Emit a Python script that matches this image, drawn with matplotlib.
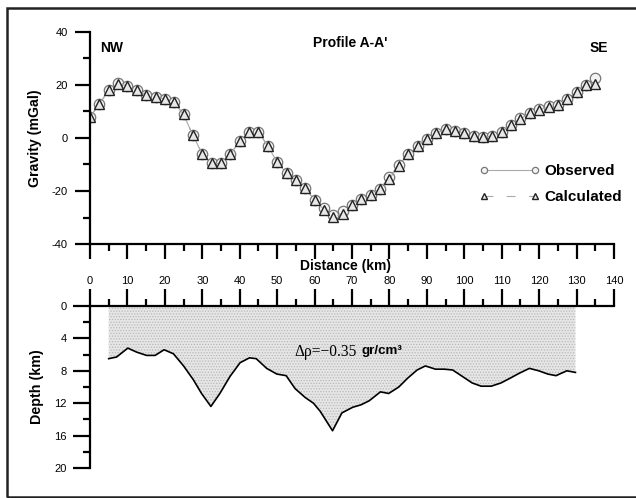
import numpy as np
import matplotlib
matplotlib.use("Agg")
import matplotlib.pyplot as plt
from matplotlib.patches import Rectangle

plt.rcParams["font.family"] = ["Liberation Sans", "DejaVu Sans"]
plt.rcParams["hatch.linewidth"] = 0.6

# gravity profile, one station every 2.5 km
distance = np.arange(0, 137.5, 2.5)
calculated = [8, 12.7, 18.2, 20.5, 19.7, 18, 16.2, 15.4, 14.7, 13.4,
              8.9, 1, -6, -9.6, -9.6, -6, -1.3, 2.3, 2.3, -3,
              -9.1, -13.2, -16, -19, -23.5, -27, -29.8, -28.5, -25.4, -23.1,
              -21.4, -19.1, -15.3, -10.7, -6.2, -3.1, -0.2, 1.9, 3.3, 2.8,
              1.8, 0.8, 0.3, 0.8, 2.4, 4.8, 7.3, 9.3, 10.7, 11.6,
              12.6, 14.7, 17.5, 19.9, 20.4]
observed = [8, 12.7, 18.2, 20.6, 19.8, 18, 16.2, 15.4, 14.7, 13.4,
            8.9, 1, -6, -9.6, -9.6, -6, -1.3, 2.3, 2.3, -3,
            -9.1, -13.2, -16, -19, -23.3, -26.5, -29.2, -27.6, -25.4, -23.1,
            -21.4, -19.1, -14.6, -10.2, -6.2, -3.1, -0.2, 2.0, 3.4, 2.8,
            1.8, 0.8, 0.3, 0.8, 2.4, 4.8, 7.6, 9.5, 10.8, 11.9,
            12.6, 14.7, 17.5, 19.9, 22.5]

# basement depth of the model
depth_x = [5, 7.1, 10.1, 12.5, 15.1, 17.4, 19.8, 22.3, 25, 27.6,
           29.8, 32.3, 34.7, 37.4, 40.1, 42.6, 44.4, 47.2, 49.9, 52.4,
           54.8, 57.5, 59.7, 61.5, 64.8, 67.3, 70.2, 72.4, 74.6, 77.6,
           79.8, 82.5, 84.9, 87.4, 89.6, 92.3, 94.7, 96.9, 99.5, 102.1,
           104.5, 107.2, 109.8, 112.3, 114.7, 117.4, 119.9, 122.3, 124.5, 127.4,
           129.7]
depth_z = [6.5, 6.3, 5.2, 5.7, 6.1, 6.1, 5.4, 5.9, 7.4, 9.1,
           10.8, 12.4, 10.8, 8.7, 7.0, 6.4, 6.5, 7.7, 8.4, 8.6,
           10.2, 11.3, 12.0, 13.0, 15.4, 13.2, 12.5, 12.2, 11.7, 10.6,
           10.8, 10.0, 8.9, 7.9, 7.4, 7.8, 7.8, 7.9, 8.7, 9.5,
           9.9, 9.9, 9.5, 8.9, 8.3, 7.7, 8.0, 8.4, 8.6, 8.0,
           8.2]

W, H = 636, 498
fig = plt.figure(figsize=(W / 100, H / 100), dpi=100)

# outer frame
fig.patches.append(Rectangle((6.5 / W, 1.5 / H), 1.0, (489.5 - 1.5) / H,
                             transform=fig.transFigure, fill=False,
                             edgecolor="#222222", linewidth=1.8))

ax1 = fig.add_axes([90 / W, 1 - 244 / H, 524 / W, 212 / H])
ax2 = fig.add_axes([90 / W, 1 - 468 / H, 524 / W, 162 / H])

# ---- gravity panel
ax1.plot(distance, observed, color="#aaaaaa", linewidth=0.8, linestyle="-",
         marker="o", markersize=7.5, markerfacecolor="#f4f4f4",
         markeredgecolor="#777777", markeredgewidth=0.9, label="Observed")
ax1.plot(distance, calculated, color="#aaaaaa", linewidth=0.8,
         linestyle=(0, (8, 12)), marker="^", markersize=7.5,
         markerfacecolor="#e8e8e8", markeredgecolor="#222222",
         markeredgewidth=1.0, label="Calculated")

ax1.set_xlim(0, 140)
ax1.set_ylim(-40, 40)
ax1.set_xticks(np.arange(0, 141, 10))
ax1.set_xticks(np.arange(5, 140, 10), minor=True)
ax1.set_yticks([-40, -20, 0, 20, 40])
ax1.set_yticks([-30, -10, 10, 30], minor=True)
ax1.set_yticklabels(["-40", "-20", "0", "20", "40"])
for s in ["top", "right"]:
    ax1.spines[s].set_visible(False)
for s in ["left", "bottom"]:
    ax1.spines[s].set_linewidth(1.6)
ax1.tick_params(which="major", length=11, width=1.6, direction="out",
                labelsize=8, color="black")
ax1.tick_params(which="minor", length=5, width=1.6, direction="out")
ax1.tick_params(axis="x", which="major", pad=12)
ax1.tick_params(axis="y", which="major", pad=5)
ax1.set_ylabel("Gravity (mGal)", fontsize=10.2, fontweight="bold",
               labelpad=7)

ax1.text(2.7, 34, "NW", fontsize=10, fontweight="bold", va="center")
ax1.text(69.5, 36, "Profile A-A'", fontsize=10, fontweight="bold",
         ha="center", va="center")
ax1.text(136, 34, "SE", fontsize=10, fontweight="bold",
         ha="center", va="center")

leg = ax1.legend(loc="center left", bbox_to_anchor=(0.744, 0.283),
                 frameon=False, borderpad=0, borderaxespad=0,
                 numpoints=2, handlelength=3.9, handletextpad=0.3,
                 labelspacing=0.8, markerscale=0.6,
                 prop={"weight": "bold", "size": 11})

fig.text(346 / W, 1 - 266 / H, "Distance (km)", fontsize=10,
         fontweight="bold", ha="center", va="center")

# ---- depth panel
ax2.fill_between(depth_x, 0, depth_z, facecolor="#e6e6e6",
                 edgecolor="#b8b8b8", hatch="......", linewidth=0)
ax2.plot(depth_x, depth_z, color="black", linewidth=1.2)

ax2.set_xlim(0, 140)
ax2.set_ylim(20, 0)
ax2.xaxis.tick_top()
ax2.set_xticks(np.arange(0, 141, 10))
ax2.set_xticks(np.arange(5, 140, 10), minor=True)
ax2.set_xticklabels([])
ax2.set_yticks([0, 4, 8, 12, 16, 20])
ax2.set_yticks([2, 6, 10, 14, 18], minor=True)
for s in ["bottom", "right"]:
    ax2.spines[s].set_visible(False)
for s in ["left", "top"]:
    ax2.spines[s].set_linewidth(1.6)
ax2.tick_params(which="major", length=12, width=1.6, direction="out",
                labelsize=8)
ax2.tick_params(which="minor", length=5, width=1.6, direction="out")
ax2.tick_params(axis="y", which="major", pad=5)
ax2.set_ylabel("Depth (km)", fontsize=10.3, fontweight="bold", labelpad=7)

ax2.text(54.6, 5.7, "\u0394\u03c1=\u22120.35", fontsize=11.2,
         family=["Liberation Serif", "DejaVu Serif"], va="center")
ax2.text(72.6, 5.6, "gr/cm\u00b3", fontsize=9.6, fontweight="bold",
         va="center")

fig.savefig("out.png", dpi=100)
